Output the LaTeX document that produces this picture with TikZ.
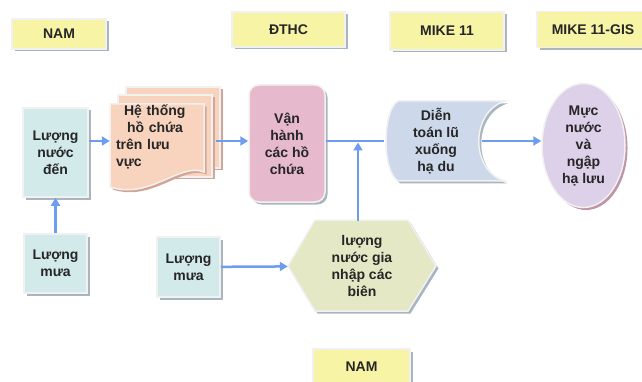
\documentclass[tikz,border=0pt]{standalone}
\usepackage{fontspec}
\setmainfont{Liberation Sans}
\usetikzlibrary{arrows.meta,shadows,shapes.geometric}
\definecolor{txt}{HTML}{262626}
\definecolor{frame}{HTML}{F1F1F1}
\definecolor{shade}{HTML}{A9B6BF}
\definecolor{tagyellow}{HTML}{F7F4A6}
\definecolor{cyanbox}{HTML}{D3EAEB}
\definecolor{peach}{HTML}{F8D3BE}
\definecolor{peachshade}{HTML}{D3A596}
\definecolor{pinkbox}{HTML}{E7B9CC}
\definecolor{bluegrey}{HTML}{CDD8EB}
\definecolor{lavender}{HTML}{DDD0E9}
\definecolor{mauve}{HTML}{BF93A8}
\definecolor{olive}{HTML}{E4E8C4}
\definecolor{flowblue}{HTML}{6E9CEF}

\begin{document}
\begin{tikzpicture}[x=1pt,y=-1pt,
    every node/.style={font=\fontsize{14}{17}\selectfont\bfseries,text=txt,align=center,inner sep=0pt},
    box/.style={draw=frame,line width=1.5pt,drop shadow={shadow xshift=2.5pt,shadow yshift=-2.5pt,fill=#1,opacity=1}},
    box/.default=shade,
    tag/.style={box,fill=tagyellow},
    flow/.style={draw=flowblue,line width=2.5pt,-{Triangle[length=8pt,width=9pt]}}]
    \useasboundingbox (0,0) rectangle (642,382);
    %% model labels
    \node[tag,minimum width=94pt,minimum height=30pt] (nam) at (59,34) {NAM};
    \node[tag,minimum width=113pt,minimum height=35pt] (dthc) at (288.5,29.5) {ĐTHC};
    \node[tag,minimum width=114pt,minimum height=38pt] (mike) at (447,31) {MIKE 11};
    \node[tag,minimum width=112pt,minimum height=36pt] (mikegis) at (593,29.5) {MIKE 11-GIS};
    \node[tag,minimum width=97pt,minimum height=36pt] (nambien) at (361.5,367) {NAM};
    %% inflow and rain
    \node[box,fill=cyanbox,minimum width=65pt,minimum height=89pt] (luongnuoc) at (55.5,152.5) {Lượng\\nước\\đến};
    \node[box,fill=cyanbox,minimum width=63pt,minimum height=59pt] (mua) at (55.5,263.5) {Lượng\\mưa};
    \node[box,fill=cyanbox,minimum width=63pt,minimum height=60pt] (muabien) at (188.5,267) {Lượng\\mưa};
    %% reservoir system (pages)
    \filldraw[box=peachshade,fill=peach] (126,87) rectangle (220,168);
    \filldraw[box=peachshade,fill=peach] (118,95) rectangle (212,177);
    \filldraw[box=peachshade,fill=peach] (110,104) -- (204,104) -- (204,172)
        .. controls (180,162) and (150,200) .. (110,187) -- cycle;
    \node[minimum width=94pt,minimum height=64pt,text width=82pt,align=left] (hethong) at (157,137)
        {\hspace*{8pt}Hệ thống\\\hspace*{11pt}hồ chứa\\trên lưu\\vực};
    %% operation
    \node[box,fill=pinkbox,rounded corners=10pt,minimum width=76pt,minimum height=117pt] (vanhanh) at (287,143.5) {Vận\\hành\\các hồ\\chứa};
    %% routing (stored data shape)
    \filldraw[box,fill=bluegrey] (398,101) -- (505,101)
        .. controls (470,112) and (470,171) .. (505,181) -- (398,181)
        .. controls (382,171) and (382,111) .. (398,101);
    \node[minimum width=100pt,minimum height=80pt] (dientoan) at (436,141) {Diễn\\toán lũ\\xuống\\hạ du};
    %% water level
    \node[box=mauve,ellipse,fill=lavender,minimum width=83pt,minimum height=124pt] (mucnuoc) at (583.5,145.5) {Mực\\nước\\và\\ngập\\hạ lưu};
    %% boundary inflow (hexagon)
    \filldraw[box,fill=olive] (288,266) -- (315,220) -- (408,220) -- (436,266) -- (408,311) -- (315,311) -- cycle;
    \node[minimum width=148pt,minimum height=90pt] (bien) at (362,266) {lượng\\nước gia\\nhập các\\biên};
    %% flows
    \coordinate (axis) at (0,141);
    \draw[flow] (mua) -- (luongnuoc);
    \draw[flow] (luongnuoc.east |- axis) -- (hethong.west |- axis);
    \draw[flow,shorten <=12pt] (hethong.east |- axis) -- (vanhanh.west |- axis);
    \draw[draw=flowblue,line width=2.5pt] (vanhanh.east |- axis) -- ([xshift=-2pt]dientoan.west |- axis);
    \draw[flow] ([xshift=-4pt]dientoan.east |- axis) -- (mucnuoc.west |- axis);
    \draw[flow] (muabien) -- (bien);
    \draw[flow,shorten >=1.5pt] ([xshift=-4pt]bien.north) -- ([xshift=-4pt]bien.north |- axis);
\end{tikzpicture}
\end{document}
